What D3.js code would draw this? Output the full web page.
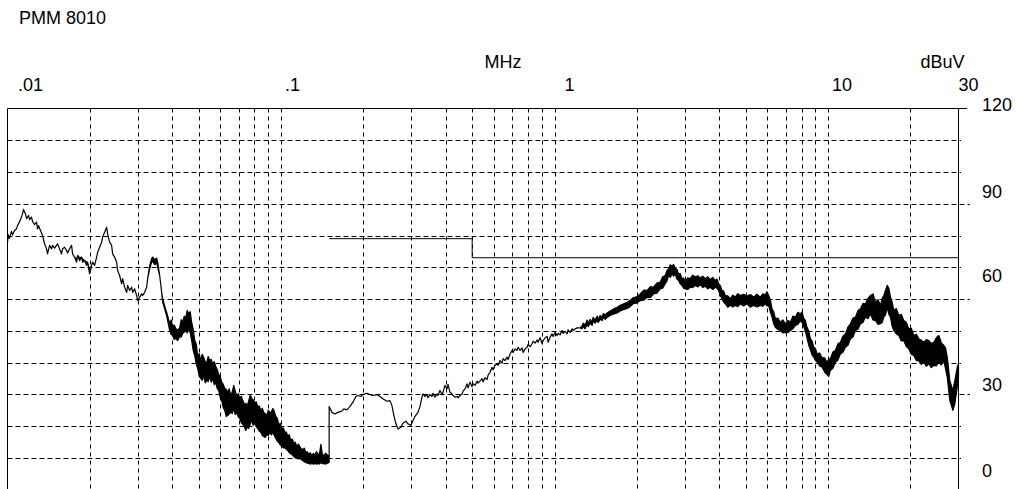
<!DOCTYPE html>
<html>
<head>
<meta charset="utf-8">
<script src="https://cdn.jsdelivr.net/npm/d3@7"></script>
<style>
  html, body { margin: 0; padding: 0; background: #fff; }
  svg { display: block; font-family: 'Liberation Sans', Arial, sans-serif; }
</style>
</head>
<body>
<div id="chart"></div>
<script>
const title = 'PMM 8010'
const freqUnit = 'MHz'
const levelUnit = 'dBuV'

const freqTicks = [0.01, 0.1, 1, 10, 30]
const freqTickLabels = ['.01', '.1', '1', '10', '30']
const levelTicks = [0, 30, 60, 90, 120]

// limit line (QP class A): freq in MHz, level in dBuV
const limitFreqs = [0.15, 0.5, 0.5, 30]
const limitLevels = [79, 79, 73, 73]

// scan 9 kHz - 150 kHz : [MHz, low dBuV, high dBuV]  (high omitted = thin line)
const scanLow = [
  [0.01, 77.9], [0.01008, 80.2], [0.01017, 79.1], [0.01034, 81.3], [0.01043, 80.2],
  [0.01061, 81.6], [0.01079, 82.1], [0.01088, 83.1], [0.01116, 85.0], [0.01135, 86.8],
  [0.01144, 88.2], [0.01164, 86.8], [0.01174, 85.3], [0.01194, 86.3], [0.01204, 85.0],
  [0.01224, 85.8], [0.01235, 84.4], [0.01256, 83.4], [0.01277, 84.2], [0.01288, 82.1],
  [0.01299, 83.1], [0.0132, 81.6], [0.01343, 80.0], [0.01366, 77.4], [0.01389, 75.8],
  [0.01401, 74.2], [0.01425, 76.9], [0.01449, 75.8], [0.01461, 76.9], [0.01486, 76.0],
  [0.01511, 76.9], [0.01524, 77.4], [0.0155, 75.8], [0.01576, 74.2], [0.0159, 75.8],
  [0.01617, 76.3], [0.01644, 75.3], [0.01658, 74.5], [0.01686, 75.8], [0.01715, 76.9],
  [0.0173, 74.2], [0.01759, 73.2], [0.01789, 71.6, 72.4], [0.01804, 73.7], [0.01835, 72.1, 73.0],
  [0.01866, 73.2], [0.01882, 71.6, 72.6], [0.01914, 72.1], [0.01946, 70.6, 71.6], [0.01963, 71.6],
  [0.01996, 67.9, 69.0], [0.0203, 70.6], [0.02047, 71.6], [0.02082, 70.6], [0.02118, 73.2],
  [0.02136, 74.7], [0.02172, 76.3], [0.02209, 77.9], [0.02227, 79.5], [0.02265, 81.0],
  [0.02304, 82.6], [0.02323, 80.5], [0.02363, 77.9], [0.02403, 76.9], [0.02423, 74.2],
  [0.02464, 73.2], [0.02506, 71.6], [0.02527, 69.0], [0.0257, 67.4], [0.02614, 64.8],
  [0.02636, 66.4], [0.02681, 63.7], [0.02727, 62.1], [0.0275, 64.3], [0.02796, 62.7],
  [0.02844, 63.7], [0.02868, 62.1], [0.02917, 63.2], [0.02966, 61.1], [0.02991, 59.5],
  [0.03042, 60.6], [0.03094, 61.6], [0.0312, 61.1], [0.03173, 62.1], [0.03227, 63.7],
  [0.03254, 66.4], [0.0331, 69.5, 70.5], [0.03366, 71.6, 72.7], [0.03394, 71.8, 73.2],
  [0.03452, 70.8, 72.4], [0.03511, 71.4, 72.9], [0.0354, 70.0, 71.6], [0.03601, 67.4],
  [0.03662, 62.1], [0.03692, 59.0, 60.2], [0.03755, 56.9, 57.8], [0.0382, 54.6, 55.8],
  [0.03917, 50.1, 52.3], [0.03967, 48.8, 53.4], [0.04018, 48.5, 51.3], [0.04069, 47.2, 51.8],
  [0.04121, 47.6, 50.7], [0.04191, 46.9, 50.2], [0.04262, 48.2, 51.0], [0.04316, 48.0, 53.5],
  [0.04371, 49.1, 52.6], [0.04427, 49.6, 54.6], [0.04483, 50.1, 53.9], [0.0454, 49.3, 56.4],
  [0.04598, 50.7, 55.4], [0.04656, 49.4, 56.0], [0.04715, 46.9, 52.6], [0.04775, 43.8, 50.6],
  [0.04836, 42.2, 46.9], [0.04898, 39.6, 45.8], [0.0496, 38.1, 42.2], [0.05023, 35.6, 42.8],
  [0.05087, 35.0, 40.6], [0.05152, 34.4, 42.6], [0.05217, 35.9, 41.6], [0.05284, 33.6, 40.2],
  [0.05351, 34.3, 40.0], [0.05419, 34.0, 41.9], [0.05488, 35.6, 40.6], [0.05558, 33.8, 41.0],
  [0.05628, 35.0, 39.4], [0.057, 33.0, 40.3], [0.05772, 33.7, 38.7], [0.05845, 31.8, 37.8],
  [0.0592, 31.2, 36.2], [0.05996, 28.9, 35.6], [0.06072, 28.0, 33.7], [0.06149, 25.8, 33.2],
  [0.06227, 24.9, 31.8], [0.06306, 23.0, 31.6], [0.06387, 23.3, 30.6], [0.06468, 23.8, 31.7],
  [0.0655, 24.3, 29.6], [0.06634, 23.9, 30.8], [0.06718, 25.5, 32.8], [0.06804, 23.6, 31.0],
  [0.0689, 24.3, 29.6], [0.06978, 22.9, 30.2], [0.07067, 22.4, 28.7], [0.07157, 21.0, 29.4],
  [0.07248, 20.5, 28.0], [0.0734, 19.8, 27.0], [0.07433, 18.6, 27.1], [0.07528, 19.7, 26.4],
  [0.07623, 19.2, 28.0], [0.0772, 20.6, 29.8], [0.07818, 21.7, 28.7], [0.07918, 20.2, 28.2],
  [0.08018, 21.1, 27.4], [0.0812, 19.8, 27.6], [0.08224, 19.2, 26.1], [0.08328, 18.4, 26.3],
  [0.08434, 18.0, 24.9], [0.08542, 17.0, 25.6], [0.0865, 16.7, 24.3], [0.0876, 16.4, 23.9],
  [0.08872, 17.3, 23.3], [0.08985, 17.0, 25.0], [0.09099, 18.0, 24.3], [0.09215, 17.2, 24.4],
  [0.09333, 18.0, 25.5], [0.09452, 17.0, 24.6], [0.09572, 16.1, 23.0], [0.09693, 15.2, 22.4],
  [0.09815, 14.8, 20.5], [0.0994, 14.0, 20.8], [0.1007, 13.9, 19.2], [0.102, 13.1, 19.4],
  [0.1033, 13.2, 18.0], [0.1046, 12.6, 18.1], [0.1059, 12.3, 16.7], [0.1072, 11.6, 17.3],
  [0.1086, 11.3, 15.4], [0.11, 10.9, 15.9], [0.1114, 10.4, 14.5], [0.1128, 10.0, 14.9],
  [0.1142, 10.1, 13.5], [0.1157, 9.6, 14.3], [0.1172, 9.8, 13.5], [0.1187, 9.4, 12.8],
  [0.1202, 9.1, 12.6], [0.1217, 8.7, 13.0], [0.1232, 8.5, 11.7], [0.1248, 8.3, 11.9],
  [0.1264, 8.2, 11.0], [0.128, 8.0, 11.6], [0.1297, 8.2, 10.7], [0.1313, 8.0, 11.4],
  [0.133, 8.2, 10.7], [0.1347, 8.0, 11.9], [0.1364, 8.2, 11.3], [0.1381, 8.0, 10.9],
  [0.1399, 8.5, 14.2], [0.1417, 8.1, 10.9], [0.1435, 8.2, 10.7], [0.1453, 8.0, 11.4],
  [0.1472, 8.2, 11.0], [0.15, 8.5, 10.5]
]

// scan 150 kHz - 30 MHz
const scanHigh = [
  [0.15, 26.1], [0.1535, 24.3], [0.1574, 23.8], [0.1614, 24.3], [0.1669, 24.7],
  [0.1698, 25.4], [0.1741, 25.1], [0.1786, 26.1], [0.1832, 27.5], [0.1879, 29.3],
  [0.1911, 29.6], [0.196, 29.3], [0.1993, 29.9], [0.2061, 30.3], [0.2114, 29.9],
  [0.2168, 29.6], [0.2242, 29.9], [0.2299, 29.3], [0.2358, 28.6], [0.2439, 27.8],
  [0.2501, 28.0], [0.2543, 26.5], [0.2587, 23.3], [0.2631, 20.7], [0.2676, 19.1],
  [0.2745, 19.6], [0.2791, 20.9], [0.2863, 21.5], [0.2912, 20.7], [0.2987, 20.2],
  [0.3037, 21.7], [0.3088, 23.0], [0.3141, 23.8], [0.3167, 24.3], [0.3221, 26.1],
  [0.3276, 29.1], [0.3304, 30.1], [0.336, 29.3], [0.3417, 29.9], [0.3446, 28.9],
  [0.3504, 29.9], [0.3564, 29.3], [0.3594, 30.3], [0.3656, 29.1], [0.3718, 30.1],
  [0.3749, 29.6], [0.3813, 31.2], [0.3878, 29.9], [0.3911, 30.6], [0.3977, 32.8],
  [0.4045, 31.7], [0.4079, 33.1], [0.4148, 30.6], [0.4219, 30.1], [0.4255, 29.6],
  [0.4327, 29.1], [0.4401, 29.3], [0.4438, 28.9], [0.4514, 29.6], [0.4591, 30.1],
  [0.463, 31.0], [0.4709, 31.7], [0.4789, 33.3], [0.4829, 32.0], [0.4912, 33.8],
  [0.4995, 32.4], [0.5037, 33.3], [0.5123, 32.8], [0.521, 34.1], [0.5254, 33.5],
  [0.5344, 34.2], [0.5434, 34.9], [0.548, 33.9], [0.5573, 35.2], [0.5668, 34.6],
  [0.5716, 36.0], [0.5811, 36.9], [0.591, 38.5], [0.596, 37.7], [0.6062, 39.1],
  [0.6165, 39.6], [0.6217, 39.1], [0.6323, 40.6], [0.643, 39.8], [0.6485, 41.2],
  [0.6595, 40.6], [0.6707, 41.7], [0.6764, 40.9], [0.6879, 42.7], [0.6996, 43.8],
  [0.7055, 43.2], [0.7175, 44.3], [0.7297, 43.8], [0.7359, 44.8], [0.7484, 43.8],
  [0.7611, 44.6], [0.7676, 43.2], [0.7806, 44.3], [0.7939, 44.8], [0.8006, 45.7],
  [0.8142, 45.0], [0.8281, 45.9], [0.8351, 46.7], [0.8493, 46.1], [0.8637, 47.1],
  [0.8711, 46.4], [0.8859, 47.8], [0.9009, 45.9], [0.9086, 46.9], [0.924, 47.8],
  [0.9397, 48.2], [0.9477, 46.4], [0.9636, 48.0], [0.98, 49.0], [0.9883, 48.2],
  [1.005, 49.5], [1.022, 48.5], [1.031, 49.2], [1.048, 48.7], [1.066, 50.1],
  [1.075, 49.2], [1.093, 49.8], [1.112, 49.0], [1.121, 50.3], [1.14, 49.5],
  [1.16, 50.6], [1.17, 50.1], [1.19, 50.6], [1.21, 50.9], [1.241, 50.9],
  [1.262, 50.6, 51.6], [1.273, 51.4, 52.4], [1.294, 50.6, 51.8], [1.316, 52.2, 53.4],
  [1.327, 51.3, 52.3], [1.35, 52.4, 53.6], [1.373, 51.7, 52.7], [1.384, 53.0, 54.2],
  [1.408, 52.4, 53.4], [1.432, 53.4, 54.6], [1.444, 52.6, 53.6], [1.469, 53.6, 54.8],
  [1.494, 53.2, 54.2], [1.506, 54.2, 55.4], [1.532, 53.6, 55.0], [1.558, 54.2, 55.6],
  [1.598, 54.8, 56.2], [1.639, 55.2, 56.8], [1.695, 55.6, 57.4], [1.739, 56.2, 58.0],
  [1.783, 56.6, 58.4], [1.844, 57.0, 59.0], [1.891, 57.6, 59.6], [1.94, 58.5, 60.4],
  [2.006, 58.8, 60.8], [2.057, 59.5, 61.6], [2.12, 59.6, 62.8], [2.183, 60.6, 62.7],
  [2.241, 60.4, 63.9], [2.301, 61.6, 63.7], [2.367, 61.8, 65.0], [2.435, 63.2, 65.3],
  [2.487, 63.4, 67.0], [2.54, 64.8, 67.4], [2.576, 65.6, 68.9], [2.612, 67.4, 69.5],
  [2.65, 66.8, 70.8], [2.688, 67.9, 70.3], [2.726, 67.2, 70.9], [2.764, 67.9, 69.7],
  [2.803, 66.3, 69.4], [2.842, 65.8, 67.9], [2.883, 64.7, 68.0], [2.924, 64.3, 66.4],
  [2.965, 63.4, 66.6], [3.007, 63.2, 65.3], [3.07, 63.0, 66.7], [3.136, 63.7, 66.4],
  [3.203, 63.6, 67.5], [3.271, 64.3, 66.9], [3.341, 63.8, 67.3], [3.412, 64.5, 66.6],
  [3.484, 63.6, 67.2], [3.558, 64.0, 66.4], [3.634, 63.2, 67.0], [3.711, 63.7, 66.1],
  [3.79, 63.0, 66.8], [3.871, 63.7, 65.8], [3.925, 63.4, 66.3], [3.98, 62.7, 64.8],
  [4.04, 61.0, 64.2], [4.096, 60.1, 62.7], [4.153, 59.0, 62.5], [4.211, 58.5, 61.1],
  [4.3, 57.4, 61.0], [4.393, 58.0, 60.1], [4.487, 57.5, 61.2], [4.582, 58.0, 60.6],
  [4.68, 57.6, 61.7], [4.779, 58.5, 61.1], [4.916, 57.8, 61.5], [5.057, 58.5, 60.9],
  [5.2, 57.4, 61.4], [5.346, 58.0, 60.6], [5.5, 57.5, 61.5], [5.656, 58.0, 60.6],
  [5.776, 57.7, 61.6], [5.899, 58.5, 61.3], [5.982, 57.8, 62.3], [6.066, 58.0, 61.1],
  [6.154, 55.9, 59.8], [6.243, 54.3, 56.9], [6.33, 52.2, 56.0], [6.419, 51.1, 53.8],
  [6.556, 50.4, 54.0], [6.696, 50.1, 52.7], [6.839, 49.3, 53.4], [6.984, 49.5, 52.2],
  [7.133, 49.4, 53.3], [7.285, 50.1, 52.7], [7.44, 50.6, 54.6], [7.598, 51.7, 54.3],
  [7.76, 52.0, 55.8], [7.925, 53.2, 55.3], [8.036, 52.6, 55.9], [8.148, 51.4, 54.0],
  [8.266, 49.8, 53.2], [8.385, 47.7, 51.0], [8.503, 45.4, 50.0], [8.622, 44.0, 47.5],
  [8.743, 42.4, 46.8], [8.866, 41.7, 44.8], [8.994, 40.6, 44.4], [9.124, 40.1, 42.7],
  [9.318, 38.9, 43.0], [9.515, 38.5, 41.5], [9.718, 37.0, 41.5], [9.924, 36.2, 40.1],
  [10.06, 35.6, 41.0], [10.2, 37.5, 41.2], [10.42, 38.2, 43.3], [10.64, 40.1, 43.8],
  [10.87, 40.8, 45.9], [11.1, 42.7, 46.4], [11.34, 43.2, 48.3], [11.58, 44.8, 49.0],
  [11.83, 45.4, 51.2], [12.08, 47.5, 52.2], [12.34, 48.0, 54.0], [12.6, 50.1, 54.3],
  [12.87, 50.5, 56.4], [13.14, 52.2, 56.9], [13.42, 52.6, 58.6], [13.71, 54.3, 58.5],
  [14.0, 53.8, 60.2], [14.3, 55.3, 61.1], [14.61, 53.4, 61.6], [14.92, 53.2, 59.0],
  [15.24, 52.0, 59.8], [15.56, 52.2, 58.0], [15.78, 52.6, 60.2], [16.0, 54.3, 61.1],
  [16.23, 55.0, 62.8], [16.46, 57.4, 64.3], [16.69, 55.2, 63.4], [16.92, 54.3, 60.6],
  [17.16, 51.4, 59.0], [17.4, 50.1, 56.4], [17.77, 49.0, 57.0], [18.15, 48.5, 54.8],
  [18.53, 46.8, 55.2], [18.92, 46.9, 53.2], [19.33, 45.0, 52.7], [19.74, 44.3, 50.6],
  [20.16, 42.5, 50.8], [20.59, 42.2, 48.5], [21.03, 40.6, 48.9], [21.48, 40.6, 47.5],
  [21.93, 39.4, 47.0], [22.4, 40.1, 46.4], [22.88, 38.8, 47.2], [23.37, 39.6, 46.9],
  [23.87, 38.4, 46.0], [24.37, 39.1, 46.4], [24.89, 38.9, 47.8], [25.42, 40.1, 48.5],
  [25.96, 39.2, 46.2], [26.51, 40.6, 45.4], [26.9, 38.0, 44.6], [27.29, 35.4, 41.7],
  [27.89, 28.0, 34.3], [28.61, 24.9, 31.2], [29.09, 27.0, 34.3], [29.69, 32.2, 38.5],
  [30, 35.4, 39.6]
]

const width = 1016
const height = 489
const plot = { left: 7.5, right: 958.5, top: 108.5, bottom: 489.5 }

const svg = d3
  .select('#chart')
  .append('svg')
  .attr('width', width)
  .attr('height', height)

const xScale = d3.scaleLog().domain([0.01, 30]).range([plot.left, plot.right])
const yScale = d3.scaleLinear().domain([0, 120]).range([plot.bottom, plot.top])

// the instrument prints its labels a bit off the grid
const xLabelPos = d3.scaleLog().domain(freqTicks).range([30.5, 292.5, 569.5, 842, 968.5])
const yLabelPos = d3.scaleLinear().domain(levelTicks).range([477, 391, 282, 198, 111])

const grid = svg.append('g').attr('stroke', '#000').attr('stroke-width', 1).attr('fill', 'none')

// vertical grid
const vTicks = xScale.ticks().filter((d) => d > 0.01 && d < 30)
grid
  .selectAll('.vgrid')
  .data(vTicks)
  .join('line')
  .attr('x1', (d) => Math.round(xScale(d)) + 0.5)
  .attr('x2', (d) => Math.round(xScale(d)) + 0.5)
  .attr('y1', plot.top)
  .attr('y2', height)
  .attr('stroke-dasharray', '4,4')

// horizontal grid
const hTicks = yScale.ticks(12).filter((d) => d > 0 && d < 120)
grid
  .selectAll('.hgrid')
  .data(hTicks)
  .join('line')
  .attr('x1', plot.left)
  .attr('x2', (d) => (levelTicks.includes(d) ? 970 : 961))
  .attr('y1', (d) => Math.round(yScale(d)) + 0.5)
  .attr('y2', (d) => Math.round(yScale(d)) + 0.5)
  .attr('stroke-dasharray', '5,3')

// frame
grid.append('line').attr('x1', plot.left).attr('x2', 967).attr('y1', plot.top).attr('y2', plot.top)
grid.append('line').attr('x1', plot.left).attr('x2', plot.left).attr('y1', plot.top).attr('y2', height)
grid.append('line').attr('x1', plot.right).attr('x2', plot.right).attr('y1', plot.top).attr('y2', height)

// limit
const limit = d3.zip(limitFreqs, limitLevels)
svg
  .append('path')
  .datum(limit)
  .attr('fill', 'none')
  .attr('stroke', '#000')
  .attr('stroke-width', 1)
  .attr('d', d3.line().x((d) => xScale(d[0])).y((d) => yScale(d[1])))

// measured trace
const trace = scanLow.concat(scanHigh)
const area = d3
  .area()
  .x((d) => xScale(d[0]))
  .y0((d) => yScale(d[1]))
  .y1((d) => yScale(d.length > 2 ? d[2] : d[1]))

svg
  .append('path')
  .datum(trace)
  .attr('fill', '#000')
  .attr('stroke', '#000')
  .attr('stroke-width', 1.2)
  .attr('stroke-linejoin', 'round')
  .attr('d', area)

// texts
const text = svg.append('g').attr('fill', '#000').attr('font-size', 18)

text.append('text').attr('x', 19).attr('y', 24).text(title)
text.append('text').attr('x', 503).attr('y', 68).attr('text-anchor', 'middle').text(freqUnit)
text.append('text').attr('x', 942.5).attr('y', 68).attr('text-anchor', 'middle').text(levelUnit)

text
  .selectAll('.xlab')
  .data(freqTicks)
  .join('text')
  .attr('x', (d) => xLabelPos(d))
  .attr('y', 91)
  .attr('text-anchor', 'middle')
  .text((d, i) => freqTickLabels[i])

text
  .selectAll('.ylab')
  .data(levelTicks)
  .join('text')
  .attr('x', 982)
  .attr('y', (d) => yLabelPos(d))
  .text((d) => d)
</script>
</body>
</html>
